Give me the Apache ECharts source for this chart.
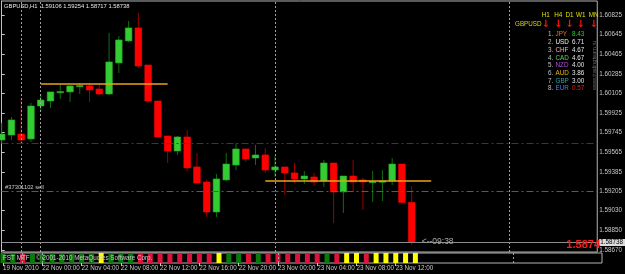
<!DOCTYPE html>
<html><head><meta charset="utf-8">
<script src="https://cdn.jsdelivr.net/npm/echarts@6/dist/echarts.min.js"></script>
<style>html,body{margin:0;padding:0;background:#000;}#c{width:625px;height:274px;}</style>
</head><body><div id="c"></div>
<script>
// ---------- data ----------
const symbol = 'GBPUSD';
const timeframe = 'H1';
const times = ['19 Nov 20:00','19 Nov 21:00','19 Nov 22:00','19 Nov 23:00',
 '22 Nov 00:00','22 Nov 01:00','22 Nov 02:00','22 Nov 03:00','22 Nov 04:00','22 Nov 05:00','22 Nov 06:00','22 Nov 07:00',
 '22 Nov 08:00','22 Nov 09:00','22 Nov 10:00','22 Nov 11:00','22 Nov 12:00','22 Nov 13:00','22 Nov 14:00','22 Nov 15:00',
 '22 Nov 16:00','22 Nov 17:00','22 Nov 18:00','22 Nov 19:00','22 Nov 20:00','22 Nov 21:00','22 Nov 22:00','22 Nov 23:00',
 '23 Nov 00:00','23 Nov 01:00','23 Nov 02:00','23 Nov 03:00','23 Nov 04:00','23 Nov 05:00','23 Nov 06:00','23 Nov 07:00',
 '23 Nov 08:00','23 Nov 09:00','23 Nov 10:00','23 Nov 11:00','23 Nov 12:00','23 Nov 13:00','23 Nov 14:00'];
const opens  = [1.59678,1.59724,1.59733,1.59688,1.59990,1.60036,1.60115,1.60119,1.60170,1.60174,1.60146,1.60100,1.60385,1.60587,1.60706,1.60366,1.60036,1.59715,1.59577,1.59706,1.59431,1.59293,1.59018,1.59312,1.59449,1.59596,1.59513,1.59541,1.59403,1.59431,1.59376,1.59321,1.59339,1.59302,1.59467,1.59202,1.59348,1.59312,1.59290,1.59293,1.59302,1.59458,1.59106];
const highs  = [1.59834,1.59889,1.60055,1.60018,1.60100,1.60119,1.60192,1.60174,1.60201,1.60201,1.60192,1.60660,1.60632,1.60770,1.60843,1.60366,1.60036,1.59715,1.59715,1.59770,1.59559,1.59312,1.59367,1.59559,1.59651,1.59596,1.59633,1.59605,1.59532,1.59431,1.59467,1.59394,1.59376,1.59495,1.59467,1.59348,1.59495,1.59330,1.59394,1.59403,1.59513,1.59458,1.59254];
const lows   = [1.59651,1.59678,1.59651,1.59660,1.59944,1.59972,1.60055,1.60027,1.60100,1.60027,1.60091,1.60091,1.60293,1.60577,1.60339,1.60018,1.59697,1.59467,1.59541,1.59394,1.59284,1.58972,1.58972,1.59302,1.59403,1.59477,1.59449,1.59376,1.59339,1.59174,1.59284,1.59275,1.59257,1.59247,1.58917,1.59009,1.59202,1.59037,1.59110,1.59119,1.59266,1.59101,1.58717];
const closes = [1.59733,1.59862,1.59678,1.59990,1.60045,1.60119,1.60119,1.60174,1.60174,1.60137,1.60100,1.60394,1.60596,1.60706,1.60357,1.60036,1.59706,1.59577,1.59706,1.59422,1.59284,1.59018,1.59321,1.59458,1.59596,1.59504,1.59541,1.59403,1.59431,1.59376,1.59321,1.59348,1.59293,1.59467,1.59202,1.59348,1.59293,1.59293,1.59295,1.59300,1.59458,1.59106,1.58738];
const panelStates = ['G','G','R','G','G','G','G','G','G','G','Y','G','G','G','R','R','R','R','R','R','R','R','Y','G','G','R','G','R','R','R','R','R','R','G','R','Y','Y','R','Y','Y','Y','Y','Y'];
const timeTickIdx = [0,4,8,12,16,20,24,28,32,36,40];
const timeTickLabels = ['19 Nov 2010','22 Nov 00:00','22 Nov 04:00','22 Nov 08:00','22 Nov 12:00','22 Nov 16:00','22 Nov 20:00','23 Nov 00:00','23 Nov 04:00','23 Nov 08:00','23 Nov 12:00'];
const priceTicks = [1.60825,1.60645,1.60465,1.60285,1.60105,1.59925,1.59745,1.59565,1.59385,1.59205,1.59030,1.58850,1.58670];
const separatorIdx = [2,4,28,52];
const stopLevel = 1.59648;
const orderLevel = 1.59208;
const orderLabel = '#37301102 sell';
const trendStart = [4,27];
const trendEnd = [17,44];
const trendLevel = [1.60198,1.59302];
const timerText = '<--09:38';
const bigPriceText = '1.5874';
const tfLabels = ['H1','H4','D1','W1','MN'];
const strengthNames = ['JPY','USD','CHF','CAD','NZD','AUD','GBP','EUR'];
const strengthValues = ['8.43','6.71','4.67','4.67','4.00','3.86','3.00','0.57'];
const indicatorName = 'FST MTF';
const copyrightText = '\u00a9 2001-2010 MetaQuotes Software Corp.';
const siteText = 'www.tradingteam.ru';

// ---------- chart ----------
const FONT = 'Liberation Sans';
const FS = 6.3;
const AXC = '#c8c8c8';
const XMIN = -0.0203, XMAX = 61.006;
const YMIN = 1.58651, YMAX = 1.60953;
const last = closes.length - 1;
const bid = closes[last];

const chart = echarts.init(document.getElementById('c'), null, {renderer:'canvas', width:625, height:274});

function renderCandle(params, api){
  const i = api.value(0), o = api.value(1), c = api.value(2), l = api.value(3), h = api.value(4);
  const po = api.coord([i,o]), pc = api.coord([i,c]), pl = api.coord([i,l]), ph = api.coord([i,h]);
  const up = c >= o;
  const x = po[0], w = 6.6;
  let top = Math.min(po[1],pc[1]), bot = Math.max(po[1],pc[1]);
  if (bot - top < 1.2){ const m = (top+bot)/2; top = m-0.6; bot = m+0.6; }
  return {type:'group', children:[
    {type:'line', shape:{x1:x,y1:ph[1],x2:x,y2:pl[1]}, style:{stroke: up?'#0e6e0e':'#9a0000', lineWidth:1}},
    {type:'rect', shape:{x:x-w/2,y:top,width:w,height:bot-top}, style:{fill: up?'#33cc33':'#ff0000', stroke: up?'#2aa82a':'#ff0000', lineWidth:0.6}}
  ]};
}
const stateColors = {R:'#dc143c', G:'#0a7a0a', Y:'#ffff00'};
const stateCodes = ['R','G','Y'];
function renderPanel(params, api){
  const i = api.value(0), s = stateCodes[api.value(2)];
  const pt = api.coord([i,1]), pb = api.coord([i,0]);
  return {type:'rect', shape:{x:pt[0]-2.5, y:pt[1], width:5, height:pb[1]-pt[1]}, style:{fill: stateColors[s]}};
}

const dotted = {color:'#a0a0a0', type:[2,2], width:1};
const vLines = (y0, y1) => separatorIdx.map(v => [{coord:[v, y0], lineStyle:dotted}, {coord:[v, y1]}]);
const hLine = (v, style, label) => [Object.assign({coord:[XMIN, v], lineStyle:style}, label ? {label:label} : {}), {coord:[XMAX, v]}];

const option = {
  backgroundColor:'#000',
  animation:false,
  grid:[
    {left:1.5, top:1, width:600.5, height:251, show:true, borderColor:'#b4b4b4', borderWidth:1, backgroundColor:'transparent'},
    {left:1.5, top:253, width:600.5, height:10, show:true, borderColor:'#b4b4b4', borderWidth:1, backgroundColor:'transparent'}
  ],
  xAxis:[
    {type:'value', gridIndex:0, min:XMIN, max:XMAX, show:false},
    {type:'value', gridIndex:1, min:XMIN, max:XMAX, position:'bottom',
      axisLine:{show:false}, splitLine:{show:false},
      axisTick:{show:true, customValues:timeTickIdx, length:3, lineStyle:{color:AXC}},
      axisLabel:{show:true, customValues:timeTickIdx, formatter:v => timeTickLabels[timeTickIdx.indexOf(Math.round(v))],
        align:'left', margin:2, color:AXC, fontSize:FS, fontFamily:FONT}}
  ],
  yAxis:[
    {type:'value', gridIndex:0, min:YMIN, max:YMAX, position:'right',
      axisLine:{show:true, lineStyle:{color:'#c0c0c0'}}, splitLine:{show:false},
      axisTick:{show:true, customValues:priceTicks, length:3, lineStyle:{color:AXC}},
      axisLabel:{show:true, customValues:priceTicks, formatter:v => v.toFixed(5), margin:2, color:AXC, fontSize:FS, fontFamily:FONT}},
    {type:'value', gridIndex:1, min:0, max:1, show:false}
  ],
  series:[
    {type:'line', xAxisIndex:0, yAxisIndex:0, data:[], silent:true,
      markLine:{silent:true, symbol:['none','none'], animation:false,
        label:{show:false},
        data:[
          ...vLines(YMIN, YMAX),
          hLine(stopLevel, {color:'#c00000', type:[7,3,2,3], width:1}),
          hLine(orderLevel, {color:'#009a00', type:[7,3,2,3], width:1}),
          hLine(bid, {color:'#8c8c8c', type:'solid', width:1},
            {show:true, position:'end', distance:2, formatter:bid.toFixed(5), backgroundColor:'#dcdcdc', color:'#000',
              fontSize:FS, fontFamily:FONT, padding:[1,2,0,1]}),
          ...trendLevel.map((lv,k) => [
            {coord:[trendStart[k], lv], lineStyle:{color:'#e8a317', type:'solid', width:1.6}},
            {coord:[trendEnd[k], lv]}
          ])
        ]}},
    {type:'custom', name:'candles', xAxisIndex:0, yAxisIndex:0, renderItem:renderCandle, clip:false,
      data: opens.map((o,i) => [i, o, closes[i], lows[i], highs[i]]), encode:{x:0, y:[1,2,3,4]}},
    {type:'custom', name:'panel', xAxisIndex:1, yAxisIndex:1, renderItem:renderPanel,
      data: panelStates.map((s,i) => [i, 1, stateCodes.indexOf(s)]), encode:{x:0, y:1}},
    {type:'line', xAxisIndex:1, yAxisIndex:1, data:[], silent:true,
      markLine:{silent:true, symbol:['none','none'], animation:false, label:{show:false},
        data: vLines(0, 1)}}
  ]
};
chart.setOption(option);

// ---------- text annotations ----------
const g = [];
const t = (x, y, text, color, extra) => g.push(Object.assign({type:'text', x:x, y:y, z:100,
  style:Object.assign({text:text, fill:color, font: FS+'px "'+FONT+'"', textVerticalAlign:'middle', textAlign:'left'}, extra && extra.style || {})},
  extra && extra.props || {}));

t(4, 6, symbol + ',' + timeframe + '  ' + [opens[last], highs[last], lows[last], closes[last]].map(v=>v.toFixed(5)).join(' '), '#e8e8e8',
  {style:{font:'5.8px "'+FONT+'"'}});

const orderY = chart.convertToPixel({yAxisIndex:0}, orderLevel);
t(5, orderY - 3.6, orderLabel, '#c8c8c8', {style:{font:'5.8px "'+FONT+'"'}});

const bidY = chart.convertToPixel({yAxisIndex:0}, bid);
const lastX = chart.convertToPixel({xAxisIndex:0}, last);
t(lastX + 10, bidY - 0.5, timerText, '#a8a8a8', {style:{font:'8.5px "'+FONT+'"'}});
t(600, bidY + 2.5, bigPriceText, '#ff1a1a', {style:{font:'bold 11px "'+FONT+'"', textAlign:'right'}});

// panel texts
t(3, 258, indicatorName, '#d0d0d0');
t(36, 258, copyrightText, '#c8c8c8');

// currency strength block
const tfX = [545.7, 558.3, 569.5, 580.7, 593.7];
tfLabels.forEach((s,k) => {
  t(tfX[k], 15, s, '#e0e000', {style:{textAlign:'center'}});
  t(tfX[k], 24, '\u2193', '#ff1010', {style:{textAlign:'center', font:'bold 10px "DejaVu Sans"'}});
});
t(515, 24.3, symbol, '#d8d800');
const nameColors = ['#ff6a2a','#f0f0f0','#ffb0b0','#5fcf5f','#b048e0','#e8b800','#20a8a8','#4a78ff'];
strengthNames.forEach((n,k) => {
  const y = 34.7 + k*7.72;
  t(548, y, (k+1)+'.', '#c0c0c0');
  t(555.5, y, n, nameColors[k]);
  const vc = k === 0 ? '#2ecc2e' : (k === strengthNames.length-1 ? '#e02020' : '#e6e6e6');
  t(572, y, strengthValues[k], vc);
});
g.push({type:'text', x:594, y:90, rotation:Math.PI/2, z:100,
  style:{text:siteText, fill:'#6a6a6a', font:'5.6px "'+FONT+'"', textVerticalAlign:'middle', textAlign:'left'}});

chart.setOption({graphic:g});
</script>
</body></html>
